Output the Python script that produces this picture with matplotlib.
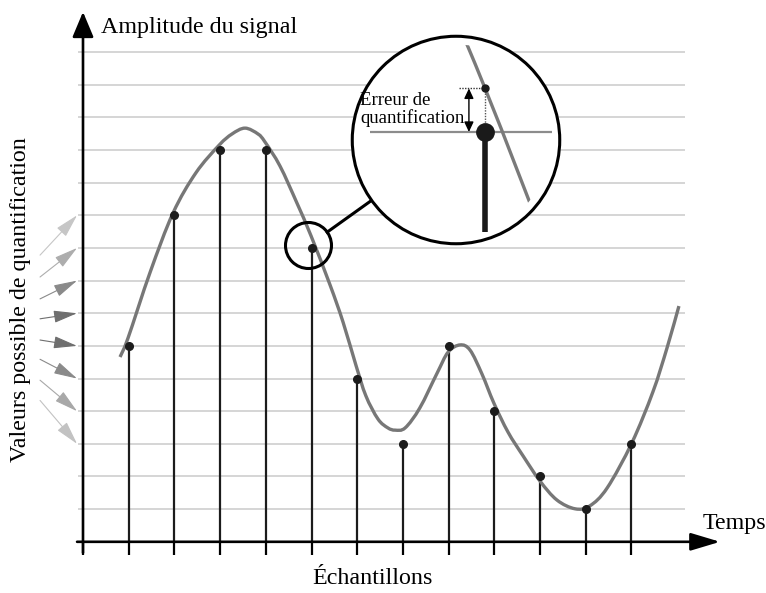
"""
Quantification d'un signal échantillonné : signal continu, échantillons
ramenés au niveau de quantification le plus proche, loupe sur l'erreur.
"""

import matplotlib.pyplot as plt
import numpy as np
from matplotlib.lines import Line2D
from matplotlib.patches import Circle, Ellipse, PathPatch
from matplotlib.path import Path

plt.rcParams["font.family"] = ["Liberation Serif", "DejaVu Serif"]

# =============================================================================
# Données
# =============================================================================

# Échantillons (indice d'échantillon, niveau quantifié)
sample_x      = [1, 2, 3, 4, 5, 6, 7, 8, 9, 10, 11, 12]
sample_levels = [6, 10, 12, 12, 9, 5, 3, 6, 4, 2, 1, 3]

# Niveaux de quantification possibles (lignes horizontales)
quant_levels = list(range(1, 16))

# Signal continu (x en échantillons, y en niveaux)
curve_x = [0.81, 0.985, 1.47, 1.97, 2.47, 2.98, 3.26, 3.545, 3.83, 3.98,
           4.31, 4.68, 4.99, 5.405, 5.69, 5.97, 6.19, 6.455, 6.67, 6.83,
           7.05, 7.37, 7.75, 7.99, 8.25, 8.47, 8.73, 8.99, 9.30, 9.63,
           10.00, 10.37, 10.77, 11.09, 11.47, 12.01, 12.47, 12.78, 13.04]
curve_y = [5.66, 6.24, 8.26, 10.07, 11.30, 12.15, 12.49, 12.67, 12.49, 12.25,
           11.51, 10.38, 9.37, 7.87, 6.73, 5.42, 4.47, 3.76, 3.49, 3.42,
           3.49, 4.10, 5.17, 5.81, 6.03, 5.87, 5.14, 4.25, 3.36, 2.63,
           1.86, 1.28, 1.01, 1.10, 1.65, 3.03, 4.59, 5.94, 7.22]

# Flèches « valeurs possibles » : niveau visé, niveau de départ, couleur
arrow_targets = [10, 9, 8, 7, 6, 5, 4, 3]
arrow_tails   = [8.78, 8.11, 7.44, 6.83, 6.18, 5.59, 4.95, 4.33]
arrow_colors  = ["#c6c6c6", "#adadad", "#8a8a8a", "#6f6f6f",
                 "#6f6f6f", "#8a8a8a", "#a8a8a8", "#c2c2c2"]

# Échantillon agrandi dans la loupe
ZOOM_SAMPLE = 5

# =============================================================================
# Mise en page (pixels de l'image 766 x 593)
# =============================================================================

W, H = 766, 593
PX_X0, PX_PER_X = 83, 45.7        # abscisse 0 et pas entre échantillons
PX_Y0, PX_PER_Y = 541.8, 32.65    # niveau 0 et pas entre niveaux

SMALL_C_PX, SMALL_R_PX = (308.5, 245.5), 23   # petit cercle
BIG_C_PX, BIG_R_PX = (456, 140), 105          # loupe
ZOOM = 4.0
LABEL_SIZE = 17.3


def smooth_path(xs, ys):
    """Chemin de Bézier passant par les points relevés (Catmull-Rom)."""
    pts = np.column_stack([xs, ys])
    ext = np.vstack([pts[0], pts, pts[-1]])
    verts, codes = [pts[0]], [Path.MOVETO]
    for i in range(1, len(ext) - 2):
        c1 = ext[i] + (ext[i + 1] - ext[i - 1]) / 6
        c2 = ext[i + 1] - (ext[i + 2] - ext[i]) / 6
        verts += [c1, c2, ext[i + 1]]
        codes += [Path.CURVE4] * 3
    return Path(verts, codes)


signal_path = smooth_path(curve_x, curve_y)

fig = plt.figure(figsize=(W / 100, H / 100), dpi=100)
ax = fig.add_axes([0, 0, 1, 1])
ax.set_xlim(-PX_X0 / PX_PER_X, (W - PX_X0) / PX_PER_X)
ax.set_ylim((PX_Y0 - H) / PX_PER_Y, PX_Y0 / PX_PER_Y)
ax.axis("off")

# Lignes de quantification
ax.hlines(quant_levels, -0.11, 13.17, color="#d2d2d2", lw=1.3, zorder=1)

# Échantillons : tiges + points
ax.vlines(sample_x, 0, sample_levels, color="#1c1c1c", lw=1.6, zorder=3)
ax.plot(sample_x, sample_levels, "o", ms=5.5, color="#1c1c1c", zorder=5)

# Signal continu
ax.add_patch(PathPatch(signal_path, fill=False, ec="#777777", lw=2.4,
                       capstyle="butt", zorder=4))

# Graduations + axes fléchés
ax.vlines(range(0, 13), -0.40, 0, color="black", lw=1.6, zorder=2)
ax.annotate("", xy=(13.94, 0), xytext=(-0.13, 0), zorder=6,
            arrowprops=dict(arrowstyle="-|>,head_length=1.8,head_width=0.54",
                            mutation_scale=10, lw=1.9, color="black",
                            shrinkA=0, shrinkB=0))
ax.annotate("", xy=(0, 16.23), xytext=(0, -0.34), zorder=6,
            arrowprops=dict(arrowstyle="-|>,head_length=1.55,head_width=0.65",
                            mutation_scale=10, lw=1.9, color="black",
                            shrinkA=0, shrinkB=0))

# Flèches vers les niveaux possibles
for target, tail, col in zip(arrow_targets, arrow_tails, arrow_colors):
    ax.annotate("", xy=(-0.13, target), xytext=(-0.94, tail),
                arrowprops=dict(arrowstyle="-|>,head_length=1.45,head_width=0.38",
                                mutation_scale=10, lw=0.8, color=col,
                                shrinkA=0, shrinkB=0))

# Petit cercle autour de l'échantillon agrandi
sc_x = (SMALL_C_PX[0] - PX_X0) / PX_PER_X
sc_y = (PX_Y0 - SMALL_C_PX[1]) / PX_PER_Y
ax.add_patch(Ellipse((sc_x, sc_y), 2 * SMALL_R_PX / PX_PER_X,
                     2 * SMALL_R_PX / PX_PER_Y, fill=False,
                     ec="black", lw=2.2, zorder=7))

# Trait reliant le petit cercle à la loupe
v = np.subtract(BIG_C_PX, SMALL_C_PX)
u = v / np.hypot(*v)
p0 = np.add(SMALL_C_PX, u * SMALL_R_PX)
p1 = np.subtract(BIG_C_PX, u * BIG_R_PX)
fig.add_artist(Line2D([p0[0] / W, p1[0] / W], [1 - p0[1] / H, 1 - p1[1] / H],
                      transform=fig.transFigure, color="black", lw=2.2))

# =============================================================================
# Loupe : même repère, agrandi ZOOM fois
# =============================================================================

curve_at_sample = np.interp(ZOOM_SAMPLE, curve_x, curve_y)
level = sample_levels[sample_x.index(ZOOM_SAMPLE)]

kx, ky = ZOOM * PX_PER_X, ZOOM * PX_PER_Y
ic_x = ZOOM_SAMPLE + (BIG_C_PX[0] - 485) / kx
ic_y = level - (BIG_C_PX[1] - 132) / ky
hx, hy = BIG_R_PX / kx, BIG_R_PX / ky

axin = fig.add_axes([(BIG_C_PX[0] - BIG_R_PX) / W,
                     1 - (BIG_C_PX[1] + BIG_R_PX) / H,
                     2 * BIG_R_PX / W, 2 * BIG_R_PX / H])
axin.set_xlim(ic_x - hx, ic_x + hx)
axin.set_ylim(ic_y - hy, ic_y + hy)
axin.axis("off")
axin.patch.set_alpha(0)

disk = Circle((0.5, 0.5), 0.5, transform=axin.transAxes,
              fc="white", ec="none", zorder=0)
axin.add_patch(disk)
inner = Circle((0.5, 0.5), 0.455, transform=axin.transAxes, visible=False)
axin.add_patch(inner)

axin.hlines(level, ic_x - 0.47, ic_x + 0.525, color="#8c8c8c", lw=1.6, zorder=1)
seg = PathPatch(signal_path, fill=False, ec="#7a7a7a", lw=2.4,
                capstyle="butt", zorder=2)
axin.add_patch(seg)
seg.set_clip_path(inner)

axin.vlines(ZOOM_SAMPLE, ic_y - 92 / ky, level, color="#1a1a1a", lw=4.0, zorder=3)
axin.plot(ZOOM_SAMPLE, level, "o", ms=12.5, color="#1a1a1a", zorder=4)
axin.plot(ZOOM_SAMPLE, curve_at_sample, "o", ms=5, color="#1a1a1a", zorder=4)

# Pointillés de report + double flèche de l'erreur
axin.hlines(curve_at_sample, ZOOM_SAMPLE - 0.142, ZOOM_SAMPLE,
            color="#333333", lw=1.0, linestyles=(0, (1, 1)), zorder=3)
axin.vlines(ZOOM_SAMPLE, level + 0.055, curve_at_sample,
            color="#555555", lw=1.0, linestyles=(0, (1, 1)), zorder=3)
axin.annotate("", xy=(ZOOM_SAMPLE - 0.088, curve_at_sample),
              xytext=(ZOOM_SAMPLE - 0.088, level),
              arrowprops=dict(arrowstyle="<|-|>,head_length=0.6,head_width=0.28",
                              mutation_scale=10, lw=1.0, color="black",
                              shrinkA=0, shrinkB=0))
axin.text(0.043, 0.645, "Erreur de\nquantification", transform=axin.transAxes,
          fontsize=13.5, ha="left", va="center", linespacing=1.0, zorder=5)

ring = Circle((0.5, 0.5), 0.5 - 0.006, transform=axin.transAxes,
              fill=False, ec="black", lw=2.2, zorder=6, clip_on=False)
axin.add_patch(ring)

# =============================================================================
# Libellés
# =============================================================================

fig.text(101 / W, 1 - 28 / H, "Amplitude du signal", fontsize=LABEL_SIZE,
         ha="left", va="center")
fig.text(703 / W, 1 - 523 / H, "Temps", fontsize=LABEL_SIZE,
         ha="left", va="center")
fig.text(372 / W, 1 - 578 / H, "Échantillons", fontsize=LABEL_SIZE,
         ha="center", va="center")
fig.text(21 / W, 1 - 300 / H, "Valeurs possible de quantification",
         fontsize=LABEL_SIZE, rotation=90, ha="center", va="center")

fig.savefig("out.png", dpi=100)
